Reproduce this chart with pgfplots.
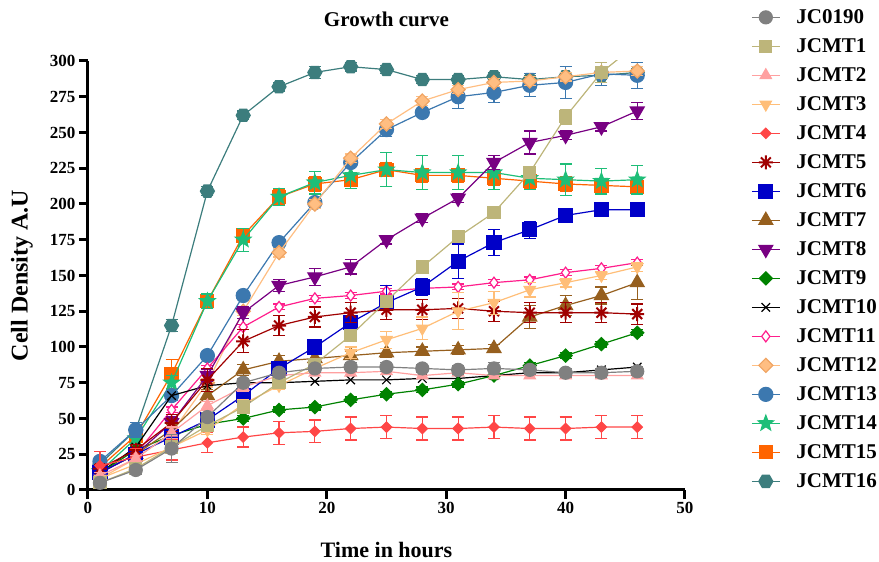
\documentclass[border=0pt]{standalone}
\usepackage{pgfplots}
\pgfplotsset{compat=1.18}
\usepackage{pgfplotstable}
\usepackage{fontspec}
\setmainfont{Liberation Serif}

\definecolor{c0}{RGB}{128,128,128}
\definecolor{c1}{RGB}{189,181,122}
\definecolor{c2}{RGB}{255,160,160}
\definecolor{c3}{RGB}{255,190,120}
\definecolor{c4}{RGB}{255,70,70}
\definecolor{c5}{RGB}{160,0,0}
\definecolor{c6}{RGB}{0,0,200}
\definecolor{c7}{RGB}{150,95,30}
\definecolor{c8}{RGB}{120,0,130}
\definecolor{c9}{RGB}{0,130,0}
\definecolor{c10}{RGB}{0,0,0}
\definecolor{c11}{RGB}{255,30,140}
\definecolor{c12}{RGB}{255,190,130}
\definecolor{c12d}{RGB}{240,165,100}
\definecolor{c13}{RGB}{60,120,175}
\definecolor{c14}{RGB}{30,190,120}
\definecolor{c15}{RGB}{255,100,0}
\definecolor{c16}{RGB}{60,125,125}

\pgfdeclareplotmark{hexagon*}{%
  \pgfpathmoveto{\pgfpointpolar{0}{\pgfplotmarksize}}%
  \pgfpathlineto{\pgfpointpolar{60}{\pgfplotmarksize}}%
  \pgfpathlineto{\pgfpointpolar{120}{\pgfplotmarksize}}%
  \pgfpathlineto{\pgfpointpolar{180}{\pgfplotmarksize}}%
  \pgfpathlineto{\pgfpointpolar{240}{\pgfplotmarksize}}%
  \pgfpathlineto{\pgfpointpolar{300}{\pgfplotmarksize}}%
  \pgfpathclose\pgfusepathqfillstroke}
\pgfdeclareplotmark{fstar}{%
  \pgfpathmoveto{\pgfpointpolar{90}{\pgfplotmarksize}}%
  \pgfpathlineto{\pgfpointpolar{126}{0.42*\pgfplotmarksize}}%
  \pgfpathlineto{\pgfpointpolar{162}{\pgfplotmarksize}}%
  \pgfpathlineto{\pgfpointpolar{198}{0.42*\pgfplotmarksize}}%
  \pgfpathlineto{\pgfpointpolar{234}{\pgfplotmarksize}}%
  \pgfpathlineto{\pgfpointpolar{270}{0.42*\pgfplotmarksize}}%
  \pgfpathlineto{\pgfpointpolar{306}{\pgfplotmarksize}}%
  \pgfpathlineto{\pgfpointpolar{342}{0.42*\pgfplotmarksize}}%
  \pgfpathlineto{\pgfpointpolar{18}{\pgfplotmarksize}}%
  \pgfpathlineto{\pgfpointpolar{54}{0.42*\pgfplotmarksize}}%
  \pgfpathclose\pgfusepathqfillstroke}
\pgfdeclareplotmark{ast8}{%
  \pgfpathmoveto{\pgfpointpolar{0}{\pgfplotmarksize}}\pgfpathlineto{\pgfpointpolar{180}{\pgfplotmarksize}}%
  \pgfpathmoveto{\pgfpointpolar{45}{\pgfplotmarksize}}\pgfpathlineto{\pgfpointpolar{225}{\pgfplotmarksize}}%
  \pgfpathmoveto{\pgfpointpolar{90}{\pgfplotmarksize}}\pgfpathlineto{\pgfpointpolar{270}{\pgfplotmarksize}}%
  \pgfpathmoveto{\pgfpointpolar{135}{\pgfplotmarksize}}\pgfpathlineto{\pgfpointpolar{315}{\pgfplotmarksize}}%
  \pgfusepathqstroke}

% t, then value and error for JC0190 (s0), JCMT1 (s1) ... JCMT16 (s16)
\pgfplotstableread{
t  s0 e0 s1 e1 s2 e2 s3 e3 s4 e4 s5 e5 s6 e6 s7 e7 s8 e8 s9 e9 s10 e10 s11 e11 s12 e12 s13 e13 s14 e14 s15 e15 s16 e16
1  5 2 5 2 10 2 8 2 17 10 15 3 12 2 12 2 12 2 12 2 12 2 12 2 8 2 20 3 13 3 16 3 18 3
4  14 3 15 2 22 2 18 2 23 6 28 4 25 3 25 3 25 3 28 2 30 2 25 2 22 2 42 5 36 4 38 4 42 5
7  29 10 30 3 40 4 30 3 28 7 47 6 37 4 42 4 47 4 38 2 66 2 56 2 40 3 66 3 75 5 81 10 115 4
10 51 3 45 3 59 3 42 3 33 7 77 8 49 4 66 4 80 4 46 2 73 2 85 2 75 3 94 3 132 5 132 5 209 3
13 75 3 58 3 72 3 60 3 37 7 104 8 66 4 84 4 124 4 50 2 75 2 114 2 125 3 136 3 175 8 178 5 262 3
16 82 3 75 3 80 3 73 3 40 8 115 7 85 5 90 4 143 4 56 2 75 2 128 2 166 3 173 3 205 6 205 5 282 3
19 85 3 88 3 82 2 85 3 41 8 121 7 100 5 92 3 149 6 58 2 76 2 134 2 200 3 201 3 215 8 214 5 292 4
22 86 3 108 3 82 2 96 4 43 8 124 7 117 5 94 3 156 5 63 2 77 2 136 2 232 3 229 3 220 9 217 5 296 3
25 86 3 132 3 83 2 105 6 44 8 126 7 131 12 96 3 175 3 67 2 77 2 139 2 256 3 252 5 224 12 224 5 294 3
28 85 3 156 3 80 2 113 8 43 8 126 7 142 6 97 3 190 3 70 2 78 2 141 2 272 3 264 3 222 12 220 5 287 3
31 84 3 177 3 82 2 125 13 43 8 127 7 160 12 98 3 204 3 74 2 78 2 142 2 280 3 275 8 222 12 220 5 287 3
34 85 4 194 3 80 2 131 8 44 8 125 7 173 9 99 3 229 5 80 2 80 2 145 2 285 3 278 7 222 12 218 5 289 3
37 84 3 222 3 80 2 140 5 43 8 124 7 182 6 121 8 243 8 87 2 82 2 147 2 286 3 283 8 218 8 216 5 287 3
40 82 3 261 5 80 2 145 3 43 8 124 7 192 3 129 7 248 3 94 2 82 2 152 2 289 3 285 11 217 11 214 5 289 3
43 82 3 292 7 80 2 150 3 44 8 124 7 196 3 136 6 254 3 102 2 84 2 155 2 292 3 291 8 216 9 213 5 290 3
46 83 3 312 3 80 2 156 3 44 8 123 7 196 3 145 12 265 6 110 2 86 2 159 2 293 3 290 9 217 10 212 5 292 3
}\data

\pgfplotsset{
  ser/.style={line width=1.2pt},
  eb/.style={/pgfplots/error bars/y dir=both, /pgfplots/error bars/y explicit,
    /pgfplots/error bars/error bar style={line width=1.2pt, solid},
    /pgfplots/error bars/error mark options={rotate=90, mark size=6pt, line width=1.2pt}},
}

\begin{document}
\begin{tikzpicture}
\begin{axis}[
  scale only axis, width=597pt, height=429pt,
  xmin=0, xmax=50, ymin=0, ymax=300,
  clip marker paths=true,
  axis lines=left,
  axis line style={line width=3pt, -},
  xtick={0,10,...,50}, ytick={0,25,...,300},
  tick align=outside, major tick length=9pt,
  tick style={line width=3pt, black},
  every tick/.append style={line width=3pt, black},
  every major tick/.append style={line width=3pt, black},
  /pgf/number format/assume math mode=true,
  xticklabel style={font=\bfseries\fontsize{17}{19}\selectfont},
  yticklabel style={font=\bfseries\fontsize{17}{19}\selectfont},
  title={Growth curve},
  title style={font=\bfseries\fontsize{21}{24}\selectfont, at={(axis description cs:0.5,1.084)}, anchor=center},
  xlabel={Time in hours},
  xlabel style={font=\bfseries\fontsize{22}{26}\selectfont, at={(axis description cs:0.5,-0.1399)}, anchor=center},
  ylabel={Cell Density A.U},
  ylabel style={font=\bfseries\fontsize{24}{28}\selectfont, at={(axis description cs:-0.1106,0.5)}, anchor=center},
  legend style={at={(axis description cs:1.1106,1.136)}, anchor=north west, draw=none, fill=none,
    inner sep=0pt, row sep=0pt, font=\bfseries\fontsize{21}{24}\selectfont,
    nodes={inner ysep=0pt, inner xsep=0pt, minimum height=29pt}},
  legend cell align=left,
  reverse legend,
  legend image code/.code={\draw[mark repeat=2,mark phase=2,#1] plot coordinates {(0pt,0pt) (14pt,0pt) (28pt,0pt)}; \path (44pt,0pt);},
]
\coordinate (O) at (rel axis cs:0,0);
\addplot[color=c16, ser, mark=hexagon*, mark size=7pt, mark options={solid, fill=c16}, eb] table[x=t, y=s16, y error=e16] {\data};
\addlegendentry{JCMT16}
\addplot[color=c15, ser, mark=square*, mark size=6.5pt, mark options={solid, fill=c15}, eb] table[x=t, y=s15, y error=e15] {\data};
\addlegendentry{JCMT15}
\addplot[color=c14, ser, mark=fstar, mark size=8pt, mark options={solid, fill=c14}, eb] table[x=t, y=s14, y error=e14] {\data};
\addlegendentry{JCMT14}
\addplot[color=c13, ser, mark=*, mark size=7pt, mark options={solid, fill=c13}, eb] table[x=t, y=s13, y error=e13] {\data};
\addlegendentry{JCMT13}
\addplot[color=c12, ser, mark=square*, mark size=5pt, mark options={solid, rotate=45, fill=c12, draw=c12d}, eb] table[x=t, y=s12, y error=e12] {\data};
\addlegendentry{JCMT12}
\addplot[color=c11, ser, mark=diamond*, mark size=5.5pt, mark options={solid, fill=white}, eb] table[x=t, y=s11, y error=e11] {\data};
\addlegendentry{JCMT11}
\addplot[color=c10, ser, mark=x, mark size=6pt, mark options={solid}] table[x=t, y=s10] {\data};
\addlegendentry{JCMT10}
\addplot[color=c9, ser, mark=square*, mark size=4.6pt, mark options={solid, rotate=45, fill=c9}, eb] table[x=t, y=s9, y error=e9] {\data};
\addlegendentry{JCMT9}
\addplot[color=c8, ser, mark=triangle*, mark size=8pt, mark options={solid, rotate=180, fill=c8}, eb] table[x=t, y=s8, y error=e8] {\data};
\addlegendentry{JCMT8}
\addplot[color=c7, ser, mark=triangle*, mark size=8pt, mark options={solid, fill=c7}, eb] table[x=t, y=s7, y error=e7] {\data};
\addlegendentry{JCMT7}
\addplot[color=c6, ser, mark=square*, mark size=7pt, mark options={solid, fill=c6}, eb] table[x=t, y=s6, y error=e6] {\data};
\addlegendentry{JCMT6}
\addplot[color=c5, ser, mark=ast8, mark size=7pt, mark options={solid, line width=2pt}, eb] table[x=t, y=s5, y error=e5] {\data};
\addlegendentry{JCMT5}
\addplot[color=c4, ser, mark=square*, mark size=3.6pt, mark options={solid, rotate=45, fill=c4}, eb] table[x=t, y=s4, y error=e4] {\data};
\addlegendentry{JCMT4}
\addplot[color=c3, ser, mark=triangle*, mark size=6.5pt, mark options={solid, rotate=180, fill=c3}, eb] table[x=t, y=s3, y error=e3] {\data};
\addlegendentry{JCMT3}
\addplot[color=c2, ser, mark=triangle*, mark size=6.5pt, mark options={solid, fill=c2}, eb] table[x=t, y=s2, y error=e2] {\data};
\addlegendentry{JCMT2}
\addplot[color=c1, ser, mark=square*, mark size=6pt, mark options={solid, fill=c1}, eb] table[x=t, y=s1, y error=e1] {\data};
\addlegendentry{JCMT1}
\addplot[color=c0, ser, mark=*, mark size=6.5pt, mark options={solid, fill=c0}, eb] table[x=t, y=s0, y error=e0] {\data};
\addlegendentry{JC0190}
\end{axis}
\pgfresetboundingbox
\path (O) ++(-88pt,-72pt) rectangle ++(879pt,562pt);
\end{tikzpicture}
\end{document}
